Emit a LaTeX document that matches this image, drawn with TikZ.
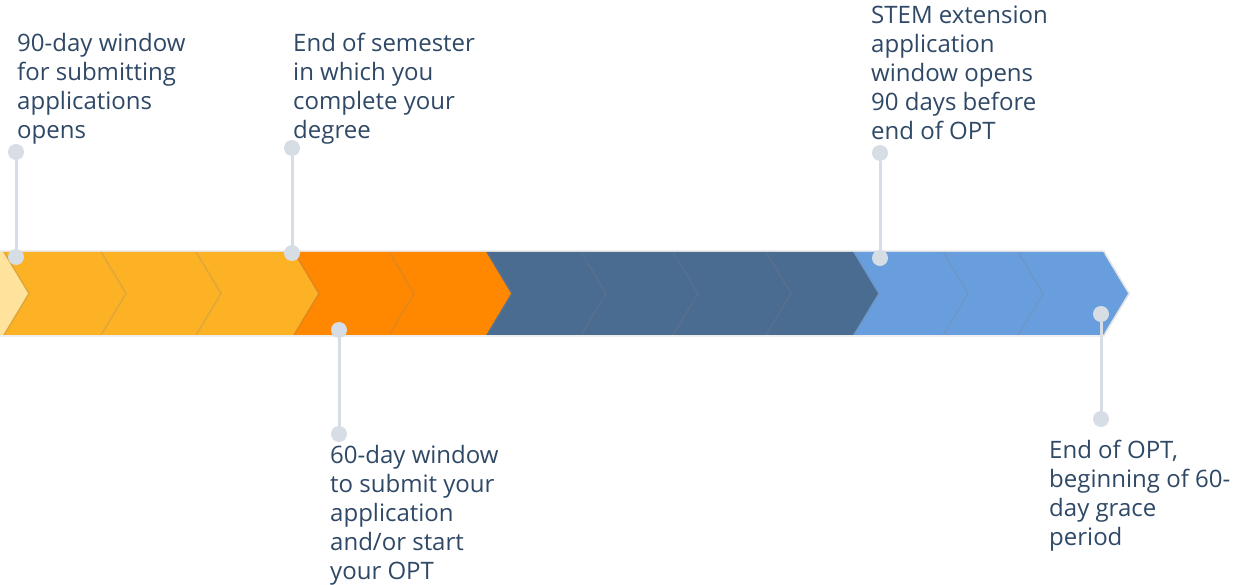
\documentclass[tikz,border=0pt]{standalone}
\usepackage{fontspec}
\setmainfont{Open Sans}
\usetikzlibrary{shadows}
\definecolor{txt}{RGB}{47,72,102}
\definecolor{pin}{RGB}{214,221,229}
\definecolor{lyel}{RGB}{255,227,156}
\definecolor{yel}{RGB}{253,178,37}
\definecolor{orng}{RGB}{255,136,0}
\definecolor{dblue}{RGB}{75,108,145}
\definecolor{lblue}{RGB}{104,158,222}
\definecolor{halo}{RGB}{238,238,238}
\begin{document}
\begin{tikzpicture}[x=1pt,y=-1pt,
  chev/.style={drop shadow={shadow xshift=2pt,shadow yshift=0pt,opacity=0.22}},
  dot/.style={circle,fill=pin,inner sep=0pt,minimum size=16pt},
  stem/.style={draw=pin,line width=3pt},
  lbl/.style={anchor=base west,inner sep=0pt,text=txt,font=\fontsize{24}{29}\selectfont}]
\useasboundingbox (0,0) rectangle (1237,585);

% faint halo behind the band
\fill[halo] (-10,250.5) rectangle (1105,337);

% chevrons, drawn right to left so each tip lies over the next one
\foreach \xl/\xr/\col in {1017/1103/lblue,942/1017/lblue,853/942/lblue,
  765/853/dblue,672/765/dblue,580/672/dblue,486/580/dblue,
  388/486/orng,293/388/orng,
  195/293/yel,100/195/yel,3/100/yel,-10/3/lyel}
  \fill[\col,chev] (\xl,252) -- (\xr,252) -- ({\xr+25},293.5) -- (\xr,335) -- (\xl,335) -- cycle;

% milestone pins
\node[dot] (p1t) at (16,152) {};  \node[dot] (p1b) at (16,257) {};
\node[dot] (p2t) at (292,148) {}; \node[dot] (p2b) at (292,253) {};
\node[dot] (p3t) at (339,330) {}; \node[dot] (p3b) at (339,434) {};
\node[dot] (p4t) at (880,153) {}; \node[dot] (p4b) at (880,258) {};
\node[dot] (p5t) at (1101,314) {};\node[dot] (p5b) at (1101,419) {};
\draw[stem] (p1t) -- (p1b);
\draw[stem] (p2t) -- (p2b);
\draw[stem] (p3t) -- (p3b);
\draw[stem] (p4t) -- (p4b);
\draw[stem] (p5t) -- (p5b);

% milestone texts
\node[lbl] (t1) at (17,52) {\begin{tabular}[t]{@{}l@{}}90-day window\\for submitting\\applications\\opens\end{tabular}};
\node[lbl] (t2) at (293,52) {\begin{tabular}[t]{@{}l@{}}End of semester\\in which you\\complete your\\degree\end{tabular}};
\node[lbl] (t3) at (871,24) {\begin{tabular}[t]{@{}l@{}}STEM extension\\application\\window opens\\90 days before\\end of OPT\end{tabular}};
\node[lbl] (t4) at (330,463) {\begin{tabular}[t]{@{}l@{}}60-day window\\to submit your\\application\\and/or start\\your OPT\end{tabular}};
\node[lbl] (t5) at (1049,458) {\begin{tabular}[t]{@{}l@{}}End of OPT,\\beginning of 60-\\day grace\\period\end{tabular}};
\end{tikzpicture}
\end{document}
